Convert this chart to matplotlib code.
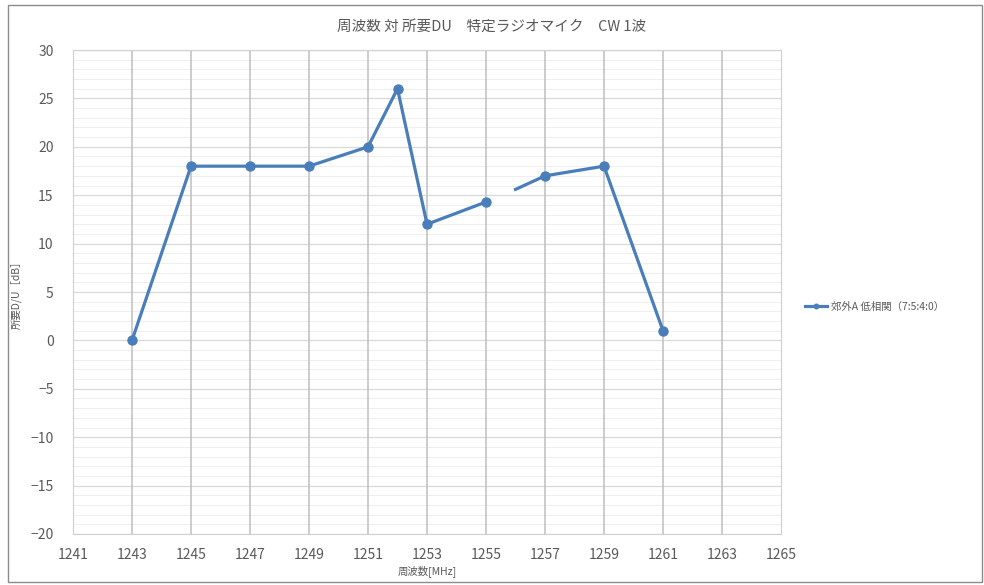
import numpy as np
import matplotlib.pyplot as plt
from matplotlib.patches import Rectangle
from matplotlib.ticker import MultipleLocator

plt.rcParams["font.family"] = ["Noto Sans CJK JP", "DejaVu Sans"]

# data
freq_a = [1243, 1245, 1247, 1249, 1251, 1252, 1253, 1255]
du_a = [0, 18, 18, 18, 20, 26, 12, 14.3]
freq_b = [1256, 1257, 1259, 1261]
du_b = [15.6, 17, 18, 1]
x_ticks = np.arange(1241, 1266, 2)
series_label = "郊外A 低相関（7:5:4:0）"

blue = "#4a7ebb"
txt = "#595959"

fig = plt.figure(figsize=(9.84, 5.85), dpi=100)
fig.patches.append(Rectangle((0.008, 0.005), 0.99, 0.987, transform=fig.transFigure,
                             fill=False, edgecolor="#8c8c8c", lw=1.0))
ax = fig.add_axes([0.0742, 0.0872, 0.7195, 0.8273])

(line,) = ax.plot(freq_a, du_a, "-o", color=blue, lw=2.3, ms=6.5, label=series_label,
                  zorder=3)
ax.plot(freq_b, du_b, "-o", color=blue, lw=2.3, ms=6.5, markevery=[1, 2, 3], zorder=3)

ax.set_xlim(1241, 1265)
ax.set_ylim(-20, 30)
ax.set_xticks(x_ticks)
ax.yaxis.set_major_locator(MultipleLocator(5))
ax.yaxis.set_minor_locator(MultipleLocator(1))
ax.grid(axis="y", which="major", color="#d9d9d9", lw=0.9)
ax.grid(axis="y", which="minor", color="#efefef", lw=0.7)
ax.set_axisbelow(True)
for xv in x_ticks[1:-1]:
    ax.axvline(xv, color="#bfbfbf", lw=1.1, zorder=1)
for s in ax.spines.values():
    s.set_color("#d0d0d0")
ax.tick_params(which="both", length=0, colors=txt, labelsize=10)
ax.tick_params(axis="x", pad=10)
ax.tick_params(axis="y", pad=14)

ax.set_xlabel("周波数[MHz]", fontsize=7.5, color=txt, labelpad=2)
ax.set_ylabel("所要D/U［dB］", fontsize=7.5, color=txt, labelpad=6)
fig.text(0.5, 0.955, "周波数 対 所要DU　特定ラジオマイク　CW 1波", ha="center", va="center",
         fontsize=10.5, color=txt)

ax.legend(handles=[line], loc="center left", bbox_to_anchor=(1.02, 0.47), frameon=False,
          fontsize=7.5, labelcolor=txt, handlelength=2.2, handletextpad=0.3, markerscale=0.5)

fig.savefig("out.png", dpi=100)
